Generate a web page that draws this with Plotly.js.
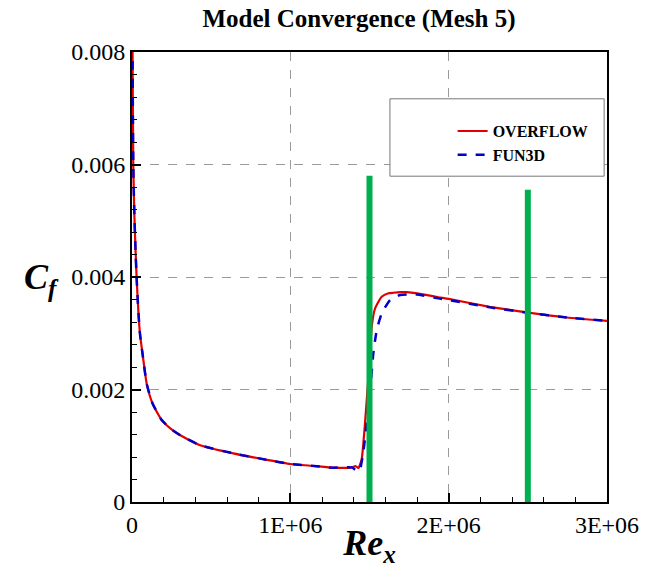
<!DOCTYPE html>
<html>
<head>
<meta charset="utf-8">
<script src="https://cdn.plot.ly/plotly-3.0.1.min.js"></script>
<style>html,body{margin:0;padding:0;background:#fff;}#chart{width:654px;height:568px;}</style>
</head>
<body>
<div id="chart"></div>
<script>
// ---- data ----
const reOverflow = [500, 3000, 8000, 15000, 22000, 29000, 40000, 50000, 72000, 93000, 130000, 187000, 250000, 303000, 430000, 640000, 850000, 1000000, 1150000, 1270000, 1390000, 1410000, 1430000, 1450000, 1470000, 1490000, 1500000, 1514000, 1535000, 1577000, 1620000, 1650000, 1700000, 1735000, 1800000, 1935000, 2000000, 2260000, 2490000, 2746000, 3000000];
const cfOverflow = [0.012, 0.0083, 0.0060, 0.0051, 0.0045, 0.0040, 0.0034, 0.0030, 0.00252, 0.0021, 0.00175, 0.00146, 0.00129, 0.00119, 0.00101, 0.000865, 0.00075, 0.000676, 0.00064, 0.00061, 0.000615, 0.00064, 0.000605, 0.00075, 0.00134, 0.0021, 0.00252, 0.00312, 0.00344, 0.00365, 0.00371, 0.00372, 0.00373, 0.00373, 0.00371, 0.00364, 0.00361, 0.00347, 0.00337, 0.00328, 0.00322];

const reFun3d = [500, 3000, 8000, 15000, 22000, 29000, 40000, 50000, 72000, 93000, 130000, 187000, 250000, 303000, 430000, 640000, 850000, 1000000, 1150000, 1270000, 1390000, 1410000, 1425000, 1440000, 1460000, 1480000, 1503000, 1524000, 1546000, 1577000, 1630000, 1693000, 1750000, 1800000, 1935000, 2000000, 2260000, 2490000, 2746000, 3000000];
const cfFun3d = [0.012, 0.0083, 0.0060, 0.0051, 0.0045, 0.0040, 0.0034, 0.0030, 0.00252, 0.0021, 0.00175, 0.00146, 0.00129, 0.00119, 0.00101, 0.000865, 0.00075, 0.000676, 0.00064, 0.00061, 0.000615, 0.00057, 0.00054, 0.00058, 0.000865, 0.00134, 0.00193, 0.00264, 0.00306, 0.00335, 0.00359, 0.00368, 0.00369, 0.00369, 0.00362, 0.00359, 0.00346, 0.00337, 0.00328, 0.00322];

const markerRe = [1500000, 2500000];
const markerTop = [0.0058, 0.00555];
const markerBottom = [0, 0];

const xTickVals = [0, 1000000, 2000000, 3000000];
const xTickText = ['0', '1E+06', '2E+06', '3E+06'];
const yTickVals = [0, 0.002, 0.004, 0.006, 0.008];
const yTickText = ['0', '0.002', '0.004', '0.006', '0.008'];

const seriesNames = ['OVERFLOW', 'FUN3D'];

// ---- traces ----
const traces = [
  {x: reOverflow, y: cfOverflow, type: 'scatter', mode: 'lines', name: seriesNames[0],
   line: {color: '#e00000', width: 2.2, shape: 'spline', smoothing: 0.5}},
  {x: reFun3d, y: cfFun3d, type: 'scatter', mode: 'lines', name: seriesNames[1],
   line: {color: '#0000c8', width: 2.5, dash: 'dash', shape: 'spline', smoothing: 0.5}}
];
markerRe.forEach((r, i) => {
  traces.push({x: [r, r], y: [markerBottom[i], markerTop[i]], type: 'scatter', mode: 'lines',
    showlegend: false, hoverinfo: 'skip', line: {color: '#00b04f', width: 6}});
});

const serif = '"Liberation Serif", "Times New Roman", Times, serif';

const layout = {
  width: 654, height: 568,
  margin: {l: 132, r: 47, t: 52, b: 66},
  paper_bgcolor: '#fff', plot_bgcolor: '#fff',
  font: {family: serif, color: '#000', size: 24},
  title: {text: '<b>Model Convergence (Mesh 5)</b>', font: {family: serif, size: 25, color: '#000'},
          x: 0.549, xanchor: 'center', y: 0.968, yanchor: 'middle'},
  xaxis: {
    range: [0, 3000000], tickmode: 'array', tickvals: xTickVals, ticktext: xTickText,
    ticks: 'inside', ticklen: 9, tickwidth: 2, tickcolor: '#000',
    minor: {ticks: 'inside', ticklen: 5, tickwidth: 1, tickcolor: '#000', dtick: 200000, showgrid: false},
    showline: true, linecolor: '#000', linewidth: 2, mirror: true,
    showgrid: true, gridcolor: '#9a9a9a', gridwidth: 1, griddash: 'dash',
    zeroline: false, tickfont: {family: serif, size: 24, color: '#000'},
    title: {text: '<b><i>Re<sub>x</sub></i></b>', font: {family: serif, size: 36, color: '#000'}, standoff: 2}
  },
  yaxis: {
    range: [0, 0.008], tickmode: 'array', tickvals: yTickVals, ticktext: yTickText,
    ticks: 'inside', ticklen: 9, tickwidth: 2, tickcolor: '#000',
    minor: {ticks: 'inside', ticklen: 5, tickwidth: 1, tickcolor: '#000', dtick: 0.0004, showgrid: false},
    showline: true, linecolor: '#000', linewidth: 2, mirror: true,
    showgrid: true, gridcolor: '#9a9a9a', gridwidth: 1, griddash: 'dash',
    zeroline: false, tickfont: {family: serif, size: 24, color: '#000'}
  },
  annotations: [
    {text: '<b><i>C<sub>f</sub></i></b>', xref: 'paper', yref: 'paper',
     x: -0.19, y: 0.495, xanchor: 'center', yanchor: 'middle', showarrow: false, textangle: 0,
     font: {family: serif, size: 36, color: '#000'}}
  ],
  shapes: [
    {type: 'rect', xref: 'paper', yref: 'paper', x0: 0.543, x1: 0.994, y0: 0.724, y1: 0.896,
     line: {color: '#777', width: 1}, fillcolor: '#fff', layer: 'above'}
  ],
  showlegend: true,
  legend: {
    x: 0.675, y: 0.862, xanchor: 'left', yanchor: 'top',
    bgcolor: 'rgba(0,0,0,0)', borderwidth: 0,
    font: {family: serif, size: 16, color: '#000', weight: 'bold'},
    tracegroupgap: 0, itemwidth: 30
  }
};

Plotly.newPlot('chart', traces, layout, {displayModeBar: false, staticPlot: true});
</script>
</body>
</html>
